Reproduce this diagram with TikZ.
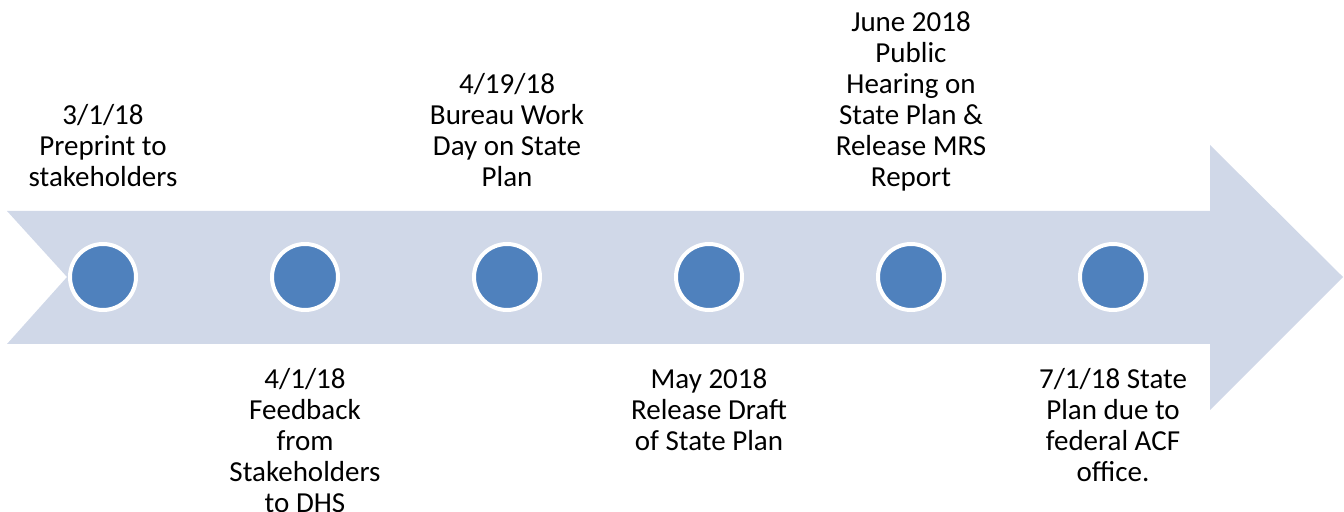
\documentclass[tikz,border=0pt]{standalone}
\usepackage{fontspec}
\setmainfont{Carlito}

\definecolor{bandfill}{HTML}{D0D8E8}
\definecolor{dotfill}{HTML}{4F81BD}

\tikzset{
  dot/.style={circle,fill=dotfill,draw=white,line width=2pt,minimum size=33pt,inner sep=0pt},
  uplabel/.style={align=center,anchor=south,text depth=0pt,inner sep=0pt,font=\fontsize{14.5}{15.5}\selectfont},
  downlabel/.style={align=center,anchor=north,inner sep=0pt,font=\fontsize{14.5}{15.5}\selectfont}
}

\begin{document}
\begin{tikzpicture}[x=0.5pt,y=-0.5pt]
  \useasboundingbox (0,0) rectangle (1344,512);
  % band
  \fill[bandfill] (7,211) -- (1210,211) -- (1210,145) -- (1343,277)
    -- (1210,410) -- (1210,344) -- (7,344) -- (67,277) -- cycle;
  % milestones
  \node[dot] (m1) at (103,277) {};
  \node[dot] (m2) at (305,277) {};
  \node[dot] (m3) at (507,277) {};
  \node[dot] (m4) at (709,277) {};
  \node[dot] (m5) at (911,277) {};
  \node[dot] (m6) at (1113,277) {};
  % labels
  \node[uplabel] (l1) at (103,187) {3/1/18\\Preprint to\\stakeholders};
  \node[downlabel] (l2) at (305,368) {4/1/18\\Feedback\\from\\Stakeholders\\to DHS};
  \node[uplabel] (l3) at (507,187) {4/19/18\\Bureau Work\\Day on State\\Plan};
  \node[downlabel] (l4) at (709,368) {May 2018\\Release Draft\\of State Plan};
  \node[uplabel] (l5) at (911,187) {June 2018\\Public\\Hearing on\\State Plan \&\\Release MRS\\Report};
  \node[downlabel] (l6) at (1113,368) {7/1/18 State\\Plan due to\\federal ACF\\office.};
\end{tikzpicture}
\end{document}
